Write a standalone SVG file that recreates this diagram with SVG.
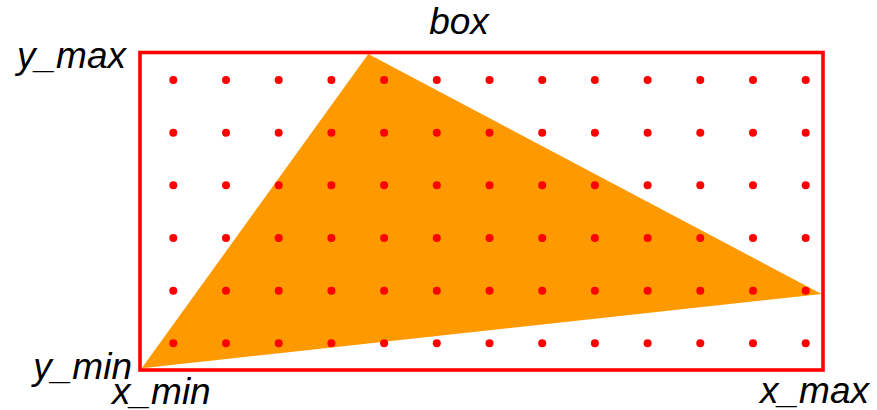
<svg xmlns="http://www.w3.org/2000/svg" width="877" height="410" viewBox="0 0 877 410">
<style>
.lbl{font-family:"Liberation Sans",Arial,sans-serif;font-style:italic;font-size:37px;fill:#000}
.d{fill:#ff0000}
</style>
<defs><circle id="dot" r="4" class="d"/></defs>
<rect width="877" height="410" fill="#fff"/>
<polygon points="368.3,54 821.7,294 141.7,368.3" fill="#ff9900"/>
<rect x="140" y="52.5" width="683" height="317.5" fill="none" stroke="#ff0000" stroke-width="3.6"/>
<g id="dots">
<g id="r0" transform="translate(0,80)">
<use href="#dot" x="173.3"/><use href="#dot" x="226"/><use href="#dot" x="278.7"/><use href="#dot" x="331.4"/><use href="#dot" x="384.1"/><use href="#dot" x="436.8"/><use href="#dot" x="489.5"/><use href="#dot" x="542.2"/><use href="#dot" x="594.9"/><use href="#dot" x="647.6"/><use href="#dot" x="700.3"/><use href="#dot" x="753"/><use href="#dot" x="805.7"/>
</g>
<use href="#r0" y="52.67"/>
<use href="#r0" y="105.33"/>
<use href="#r0" y="158"/>
<use href="#r0" y="210.67"/>
<use href="#r0" y="263.33"/>
</g>
<text class="lbl" x="459" y="34" text-anchor="middle">box</text>
<text class="lbl" x="126" y="68" text-anchor="end">y_max</text>
<text class="lbl" x="132" y="379" text-anchor="end">y_min</text>
<text class="lbl" x="112" y="404">x_min</text>
<text class="lbl" x="869" y="403" text-anchor="end">x_max</text>
</svg>
